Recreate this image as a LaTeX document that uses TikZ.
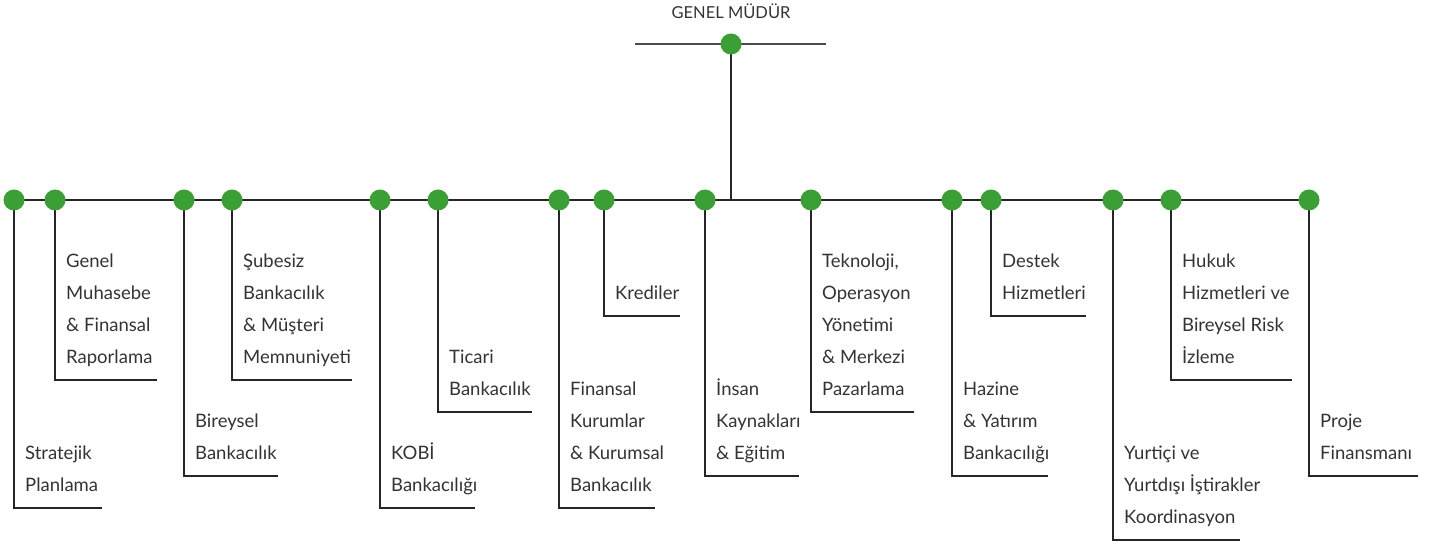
\documentclass[tikz,border=0pt]{standalone}
\usepackage{fontspec}
\setmainfont{Lato}
\usetikzlibrary{backgrounds}
\definecolor{dotgreen}{RGB}{58,160,53}
\definecolor{txtgray}{RGB}{51,51,51}
\begin{document}
\begin{tikzpicture}[x=1pt, y=-1pt,
    dot/.style = {circle, fill=dotgreen, minimum size=21pt, inner sep=0pt},
    unit/.style = {anchor=south west, align=left, inner sep=0pt, text depth=0pt, font=\fontsize{18.5}{32}\selectfont, text=txtgray},
    link/.style = {line width=1.5pt, draw=black!85}]
  \useasboundingbox (0,0) rectangle (1432,545);
  % general manager
  \node[anchor=base, font=\fontsize{16.5}{18}\selectfont, text=txtgray] (gm) at (731,19) {GENEL MÜDÜR};
  \node[dot] (top) at (731,44) {};
  \coordinate (tl) at (635,44);
  \coordinate (tr) at (826,44);
  \coordinate (hub) at (731,200);
  % departments: number / x / bottom / end of line / name
  \foreach \i/\x/\yb/\xe/\txt in {
      1/14/508/102/{Stratejik\\Planlama},
      2/55/380/157/{Genel\\Muhasebe\\\& Finansal\\Raporlama},
      3/184/476/278/{Bireysel\\Bankacılık},
      4/232/380/352/{Şubesiz\\Bankacılık\\\& Müşteri\\Memnuniyeti},
      5/380/508/475/{KOBİ\\Bankacılığı},
      6/438/412/532/{Ticari\\Bankacılık},
      7/559/508/655/{Finansal\\Kurumlar\\\& Kurumsal\\Bankacılık},
      8/604/316/680/{Krediler},
      9/705/476/799/{İnsan\\Kaynakları\\\& Eğitim},
      10/811/412/914/{Teknoloji,\\Operasyon\\Yönetimi\\\& Merkezi\\Pazarlama},
      11/952/476/1048/{Hazine\\\& Yatırım\\Bankacılığı},
      12/991/316/1086/{Destek\\Hizmetleri},
      13/1113/540/1240/{Yurtiçi ve\\Yurtdışı İştirakler\\Koordinasyon},
      14/1171/380/1292/{Hukuk\\Hizmetleri ve\\Bireysel Risk\\İzleme},
      15/1309/476/1418/{Proje\\Finansmanı}} {
    \node[dot] (d\i) at (\x,200) {};
    \coordinate (e\i) at (\xe,\yb);
    \node[unit] (t\i) at (\x+11,\yb-16) {\txt};
    \begin{scope}[on background layer]
      \draw[link] (d\i.center) |- (e\i);
    \end{scope}
  }
  \begin{scope}[on background layer]
    \draw[link] (d1.center) -- (d15.center);
    \draw[link] (top.center) -- (hub);
    \draw[link, draw=black!70] (tl) -- (tr);
  \end{scope}
\end{tikzpicture}
\end{document}
